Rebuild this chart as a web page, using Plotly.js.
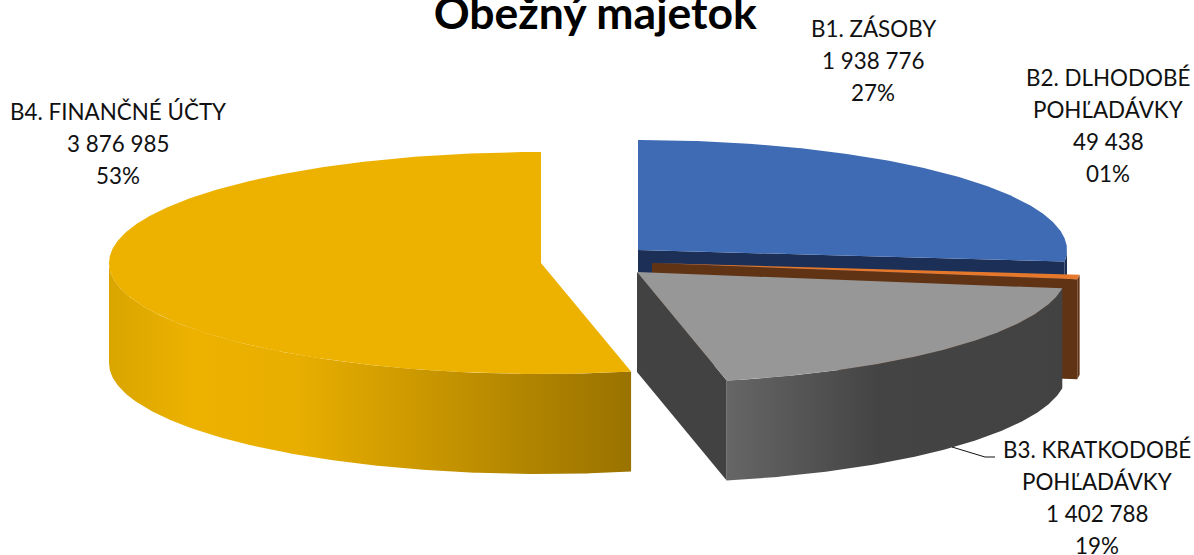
<!DOCTYPE html>
<html>
<head>
<meta charset="utf-8">
<script src="https://cdn.plot.ly/plotly-3.0.1.min.js"></script>
<style>html,body{margin:0;padding:0;background:#fff;overflow:hidden}#chart{width:1194px;height:555px}</style>
</head>
<body>
<div id="chart"></div>
<script>
// Data
const categories = ["B1. ZÁSOBY", "B2. DLHODOBÉ<br>POHĽADÁVKY", "B3. KRATKODOBÉ<br>POHĽADÁVKY", "B4. FINANČNÉ ÚČTY"];
const values = [1938776, 49438, 1402788, 3876985];
const valueLabels = ["1 938 776", "49 438", "1 402 788", "3 876 985"];
const percentLabels = ["27%", "01%", "19%", "53%"];

// Styling of each slice
const topColors = ["#3f6bb5", "#e5782b", "#979797", "#edb200"];
const sideColors = ["#1b2f57", "#603314", "#424242", "#dca600"];
const wallScales = [
  null,
  null,
  [[0, "#666666"], [0.45, "#444444"], [1, "#424242"]],
  [[0, "#d9a500"], [0.16, "#edb200"], [0.36, "#e8ae00"], [1, "#997200"]]
];

// The view of the tilted, exploded pie (in axis units = pixels)
const centres = [[638, 250], [652, 263], [637, 272], [541, 263]];
const rx = [429, 430, 430, 432];
const ry = [110, 111, 111, 111];
const depth = [102, 100, 100, 100];
const labelPos = [[873, 28], [1108, 77], [1097, 449], [118, 111]];
const lineStep = 32.3;

const total = values.reduce((a, b) => a + b, 0);
const rad = d => d * Math.PI / 180;
const px = (i, deg) => centres[i][0] + rx[i] * Math.sin(rad(deg));
const py = (i, deg) => centres[i][1] - ry[i] * Math.cos(rad(deg));
function arc(i, a, b, dy) {
  const n = Math.max(2, Math.ceil(Math.abs(b - a) * 2));
  const xs = [], ys = [];
  for (let k = 0; k <= n; k++) {
    const t = a + (b - a) * k / n;
    xs.push(px(i, t)); ys.push(py(i, t) + dy);
  }
  return [xs, ys];
}
function poly(xs, ys, color, name, scale) {
  const t = {
    type: "scatter", mode: "lines", x: xs, y: ys, fill: "toself", fillcolor: color,
    line: {width: 0, color: color}, name: name, hoverinfo: "name", showlegend: false
  };
  if (scale) t.fillgradient = {type: "horizontal", colorscale: scale, start: Math.min(...xs), stop: Math.max(...xs)};
  return t;
}

const traces = [];
let acc = 0;
values.forEach((v, i) => {
  const a = acc / total * 360;
  acc += v;
  const b = acc / total * 360;
  const name = categories[i].replace("<br>", " ");
  const c = centres[i], d = depth[i];

  // cut face turned toward the viewer (clockwise end of a right-hand slice)
  if (b < 180) {
    const ex = px(i, b), ey = py(i, b);
    traces.push(poly([c[0], ex, ex, c[0]], [c[1], ey, ey + d, c[1] + d], sideColors[i], name));
  }
  // outer wall, front half only
  const wa = Math.max(a, 90), wb = Math.min(b, 270);
  if (wb > wa) {
    const up = arc(i, wa, wb, 0), low = arc(i, wb, wa, d);
    traces.push(poly(up[0].concat(low[0]), up[1].concat(low[1]), sideColors[i], name, wallScales[i]));
  }
  // top surface
  const top = arc(i, a, b, 0);
  traces.push(poly([c[0]].concat(top[0], [c[0]]), [c[1]].concat(top[1], [c[1]]), topColors[i], name));
});

const annotations = [];
categories.forEach((cat, i) => {
  cat.split("<br>").concat([valueLabels[i], percentLabels[i]]).forEach((line, k) => {
    annotations.push({
      x: labelPos[i][0], y: labelPos[i][1] + k * lineStep, xref: "x", yref: "y",
      text: line, showarrow: false, align: "center", xanchor: "center", yanchor: "middle",
      font: {family: "Lato, Carlito, sans-serif", size: 22.4, color: "#111111"}
    });
  });
});

const layout = {
  width: 1194, height: 555,
  margin: {l: 0, r: 0, t: 0, b: 0},
  paper_bgcolor: "#ffffff", plot_bgcolor: "#ffffff",
  showlegend: false,
  title: {
    text: "<b>Obežný majetok</b>",
    font: {family: "Lato, Carlito, sans-serif", size: 44.5, color: "#000000"},
    x: 0.4985, xanchor: "center", y: 0.975, yanchor: "middle"
  },
  xaxis: {visible: false, range: [0, 1194], fixedrange: true},
  yaxis: {visible: false, range: [555, 0], fixedrange: true},
  annotations: annotations,
  shapes: [{
    type: "path", xref: "x", yref: "y",
    path: "M 952 447 L 985 457 L 995 457",
    line: {color: "#111111", width: 1}
  }]
};

Plotly.newPlot("chart", traces, layout, {displayModeBar: false, staticPlot: true});
</script>
</body>
</html>
